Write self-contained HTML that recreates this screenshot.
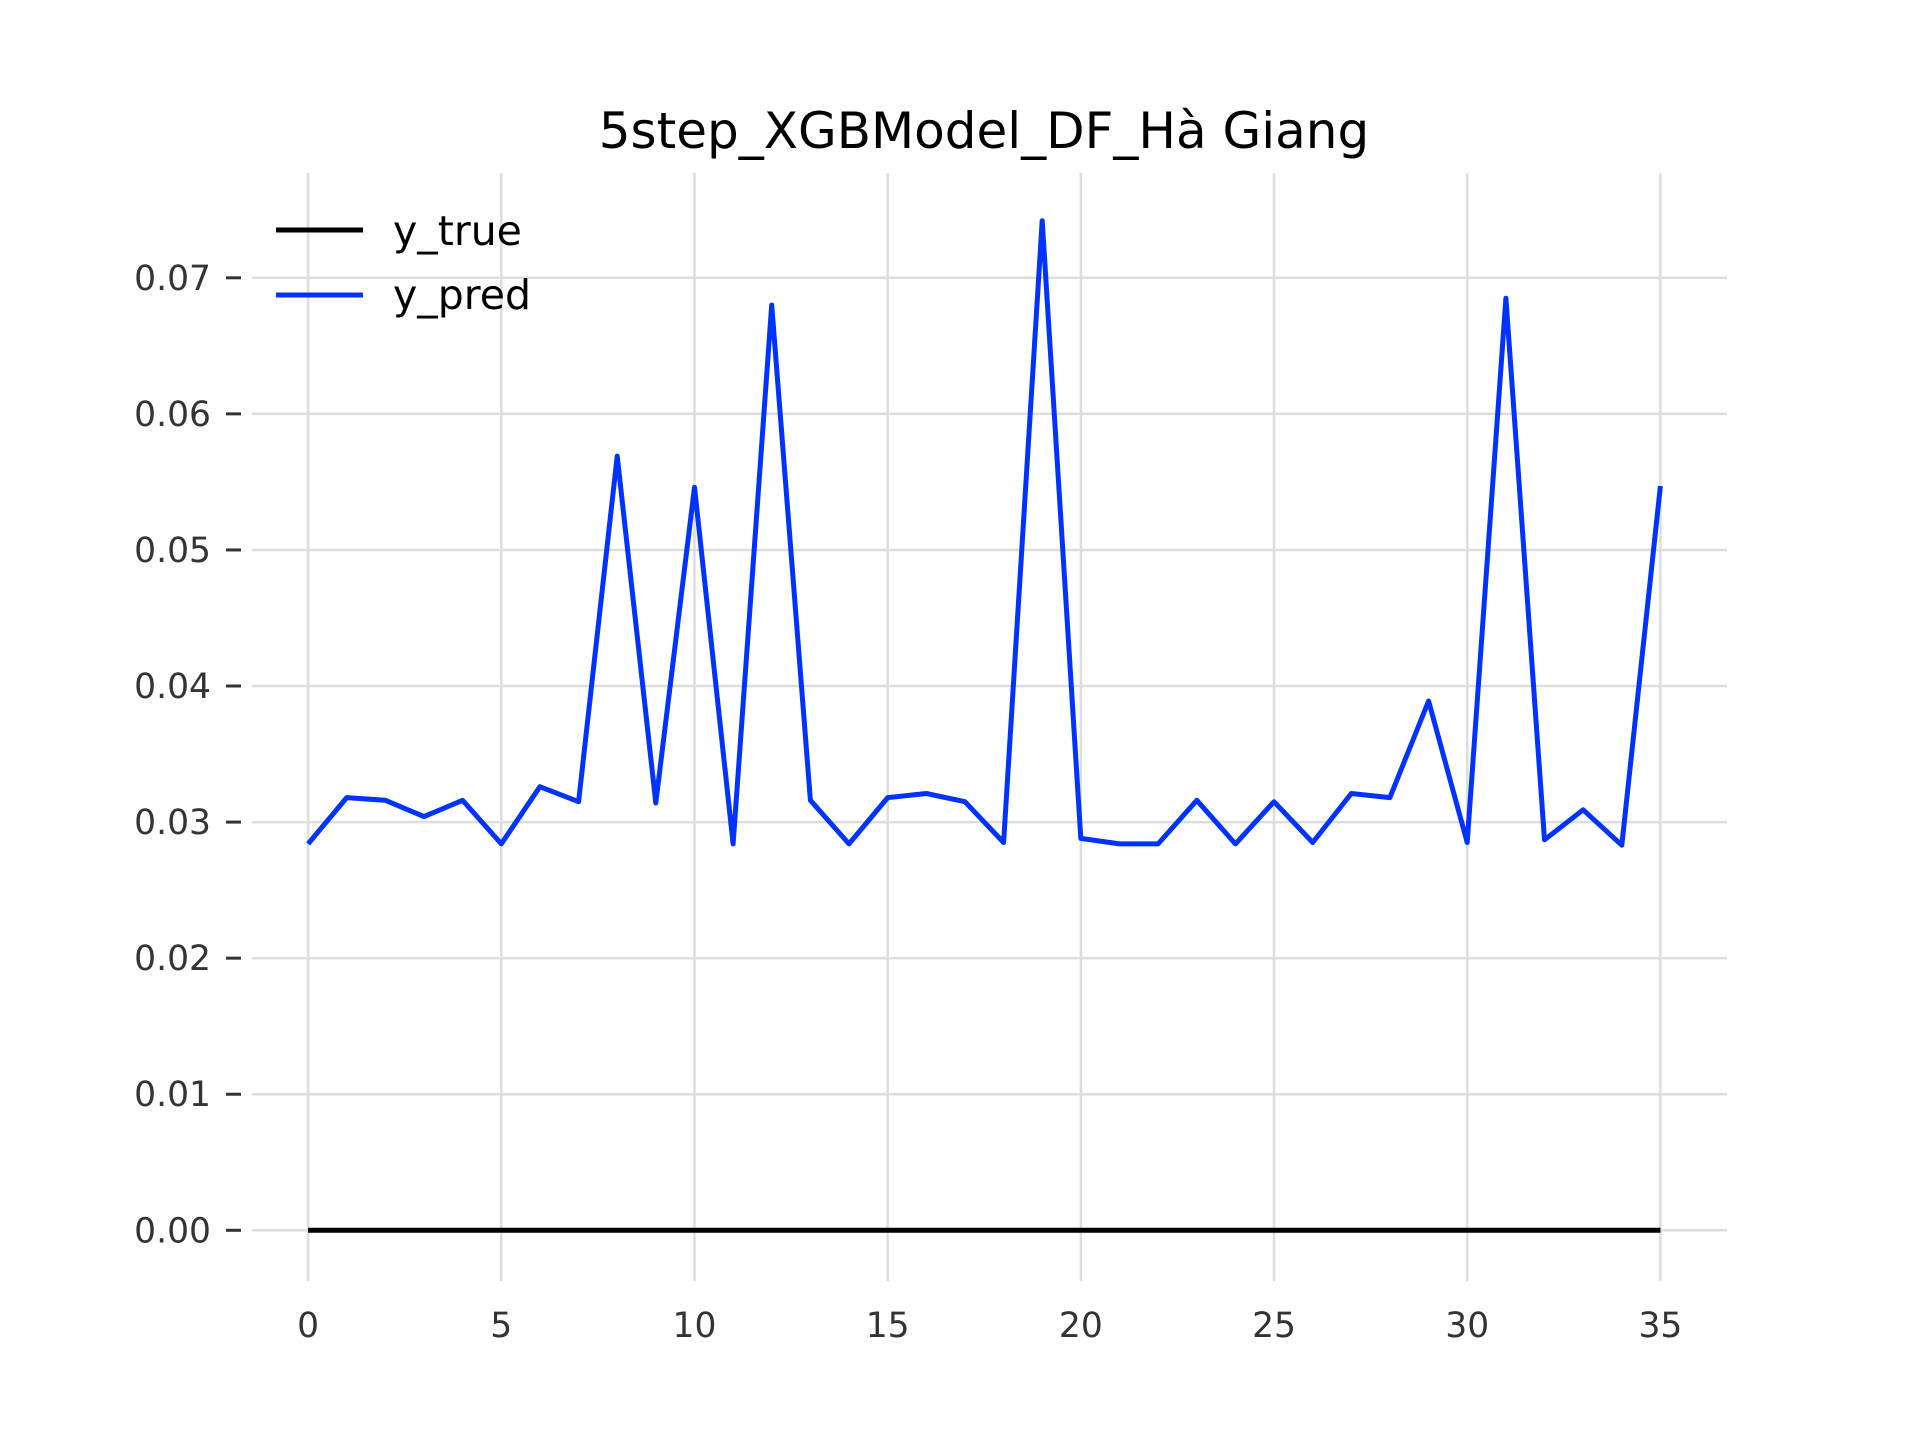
<!DOCTYPE html>
<html><head><meta charset="utf-8"><style>
html,body{margin:0;padding:0;background:#fff;}
svg{display:block;font-family:"DejaVu Sans","Liberation Sans",sans-serif;}
</style></head><body>
<svg id="chart" width="1920" height="1440" viewBox="0 0 1920 1440">
<rect width="1920" height="1440" fill="#fff"/>
<g id="grid"></g>
<g id="axes"></g>
<g id="series"></g>
<text x="984" y="148" text-anchor="middle" font-size="50" fill="#000">5step_XGBModel_DF_Hà Giang</text>
<g>
<line x1="276" y1="230" x2="363" y2="230" stroke="#000" stroke-width="5"/>
<text x="393" y="245" font-size="41" fill="#000">y_true</text>
<line x1="276" y1="295" x2="363" y2="295" stroke="#0033ff" stroke-width="5"/>
<text x="393" y="309" font-size="41" fill="#000">y_pred</text>
</g>
</svg>
<script>
const xTicks = [0,5,10,15,20,25,30,35];
const yTicks = [0,0.01,0.02,0.03,0.04,0.05,0.06,0.07];
const yTickLabels = ["0.00","0.01","0.02","0.03","0.04","0.05","0.06","0.07"];
const yTrue = [0,0,0,0,0,0,0,0,0,0,0,0,0,0,0,0,0,0,0,0,0,0,0,0,0,0,0,0,0,0,0,0,0,0,0,0];
const yPred = [0.0284,0.0318,0.0316,0.0304,0.0316,0.0284,0.0326,0.0315,0.0569,0.0314,0.0546,0.0284,0.0680,0.0316,0.0284,0.0318,0.0321,0.0315,0.0285,0.0742,0.0288,0.0284,0.0284,0.0316,0.0284,0.0315,0.0285,0.0321,0.0318,0.0389,0.0285,0.0685,0.0287,0.0309,0.0283,0.0547];

const NS = "http://www.w3.org/2000/svg";
function xs(i){ return 308.1 + i * (1660.4 - 308.1) / 35; }
function ys(v){ return 1230.3 - v * (1230.3 - 277.8) / 0.07; }
function mk(tag, attrs, parent){ const e = document.createElementNS(NS, tag); for (const k in attrs) e.setAttribute(k, attrs[k]); parent.appendChild(e); return e; }
const grid = document.getElementById('grid'), axes = document.getElementById('axes'), series = document.getElementById('series');

xTicks.forEach(t => {
  const l = mk('line', {x1: xs(t), x2: xs(t), y1: 173, y2: 1281, stroke: '#dddddd', 'stroke-width': 2.5}, grid);
  
  
  const tx = mk('text', {x: xs(t), y: 1337, 'text-anchor': 'middle', 'font-size': 34.5, fill: '#333'}, axes);
  tx.textContent = t;
  
  
});
yTicks.forEach((t, i) => {
  const l = mk('line', {x1: 252, x2: 1727, y1: ys(t), y2: ys(t), stroke: '#dddddd', 'stroke-width': 2.5}, grid);
  
  
  const tk = mk('line', {x1: 226, x2: 241, y1: ys(t), y2: ys(t), stroke: '#333', 'stroke-width': 3}, axes);
  
  
  const tx = mk('text', {x: 211, y: ys(t) + 12, 'text-anchor': 'end', 'font-size': 34.5, fill: '#333'}, axes);
  tx.textContent = yTickLabels[i];
  
  
});
function pts(arr){ return arr.map((v, i) => xs(i).toFixed(1) + ',' + ys(v).toFixed(1)).join(' '); }
const lt = mk('polyline', {points: pts(yTrue), fill: 'none', stroke: '#000', 'stroke-width': 5}, series);


const lp = mk('polyline', {points: pts(yPred), fill: 'none', stroke: '#0033ff', 'stroke-width': 5, 'stroke-linejoin': 'round'}, series);


</script>
</body></html>
